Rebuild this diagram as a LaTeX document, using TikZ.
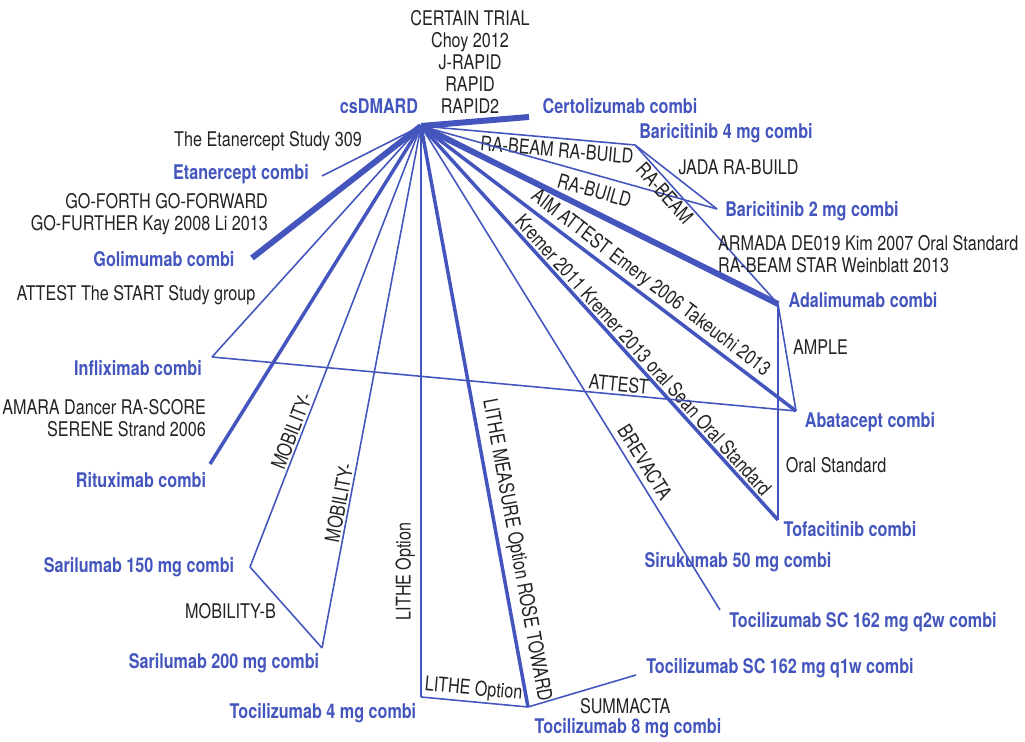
\documentclass[tikz,border=0pt]{standalone}
\usepackage{fontspec}
\setmainfont[FakeStretch=0.8]{TeX Gyre Heros}
\definecolor{netblue}{RGB}{68,86,190}
\definecolor{trialgray}{RGB}{35,35,35}

\begin{document}
\begin{tikzpicture}[x=0.02cm, y=-0.02cm,
		vtx/.style={coordinate},
		drug/.style={text=netblue, font=\fontsize{11.5}{12.6}\selectfont\bfseries, inner sep=1pt},
		trial/.style={text=trialgray, font=\fontsize{11.5}{12.6}\selectfont, inner sep=1pt},
		thinedge/.style={draw=netblue, line width=0.9pt},
		midedge/.style={draw=netblue, line width=2pt},
		thickedge/.style={draw=netblue, line width=3.4pt}]
				\useasboundingbox (0, 0) rectangle (1025, 742);
				\node[vtx] (csdmard)at(421, 126) {};
				\node[vtx] (certo)at(529, 117) {};
				\node[vtx] (bari4)at(635, 145) {};
				\node[vtx] (bari2)at(717, 209) {};
				\node[vtx] (adali)at(778, 304) {};
				\node[vtx] (abata)at(796, 411) {};
				\node[vtx] (tofa)at(778, 520) {};
				\node[vtx] (tocqtw)at(720, 610) {};
				\node[vtx] (tocqow)at(636, 675) {};
				\node[vtx] (toceight)at(528, 707) {};
				\node[vtx] (tocfour)at(421, 697) {};
				\node[vtx] (sari200)at(322, 648) {};
				\node[vtx] (sari150)at(250, 567) {};
				\node[vtx] (ritux)at(210, 464) {};
				\node[vtx] (infli)at(212, 357) {};
				\node[vtx] (golim)at(252, 258) {};
				\node[vtx] (etan)at(322, 176) {};
				\draw[thickedge] (csdmard) -- (certo);
				\draw[thinedge] (csdmard) -- (bari4) node[trial, sloped, below=1pt, pos=0.64] {RA-BEAM RA-BUILD};
				\draw[thinedge] (csdmard) -- (bari2) node[trial, sloped, below=3pt, pos=0.6] {RA-BUILD};
				\draw[thinedge] (bari4) -- (bari2) node[trial, midway, anchor=south west] {JADA RA-BUILD};
				\draw[thinedge] (bari4) -- (adali) node[trial, sloped, below, pos=0.26] {RA-BEAM};
				\draw[thickedge] (csdmard) -- (adali);
				\draw[thinedge] (adali) -- (abata) node[trial, pos=0.4, anchor=west, xshift=3pt] {AMPLE};
				\draw[thinedge] (adali) -- (tofa) node[trial, pos=0.745, anchor=west, xshift=3pt] {Oral Standard};
				\draw[midedge] (csdmard) -- (abata) node[trial, sloped, above, pos=0.59] {AIM ATTEST Emery 2006 Takeuchi 2013};
				\draw[midedge] (csdmard) -- (tofa) node[trial, sloped, above, pos=0.6] {Kremer 2011 Kremer 2013 oral Sean Oral Standard};
				\draw[thinedge] (infli) -- (abata) node[trial, sloped, above, pos=0.695] {ATTEST};
				\draw[thinedge] (csdmard) -- (infli);
				\draw[thinedge] (csdmard) -- (etan);
				\draw[thickedge] (csdmard) -- (golim);
				\draw[midedge] (csdmard) -- (ritux);
				\draw[thinedge] (sari150) -- (csdmard) node[trial, sloped, above, pos=0.3] {MOBILITY-};
				\draw[thinedge] (sari200) -- (csdmard) node[trial, sloped, above, pos=0.275] {MOBILITY-};
				\draw[thinedge] (sari150) -- (sari200) node[trial, pos=0.54, left=6pt] {MOBILITY-B};
				\draw[thinedge] (tocfour) -- (csdmard) node[trial, sloped, above=2pt, pos=0.22] {LITHE Option};
				\draw[midedge] (csdmard) -- (toceight) node[trial, sloped, above=2pt, pos=0.736] {LITHE MEASURE Option ROSE TOWARD};
				\draw[thinedge] (tocfour) -- (toceight) node[trial, sloped, above, pos=0.48] {LITHE Option};
				\draw[thinedge] (toceight) -- (tocqow) node[trial, pos=0.9, below=10pt] {SUMMACTA};
				\draw[thinedge] (csdmard) -- (tocqtw) node[trial, sloped, above=2pt, pos=0.71] {BREVACTA};
				\node[drug] (csdmardlbl)at(379, 106) {csDMARD};
				\node[drug] (certolbl)at(620, 106) {Certolizumab combi};
				\node[drug] (bari4lbl)at(726, 133) {Baricitinib 4 mg combi};
				\node[drug] (bari2lbl)at(812, 211) {Baricitinib 2 mg combi};
				\node[drug] (adalilbl)at(863, 300) {Adalimumab combi};
				\node[drug] (abatalbl)at(870, 422) {Abatacept combi};
				\node[drug] (tofalbl)at(850, 529) {Tofacitinib combi};
				\node[drug] (sirulbl)at(738, 562) {Sirukumab 50 mg combi};
				\node[drug] (tocqtwlbl)at(863, 622) {Tocilizumab SC 162 mg q2w combi};
				\node[drug] (tocqowlbl)at(780, 668) {Tocilizumab SC 162 mg q1w combi};
				\node[drug] (toceightlbl)at(628, 728) {Tocilizumab 8 mg combi};
				\node[drug] (tocfourlbl)at(323, 713) {Tocilizumab 4 mg combi};
				\node[drug] (sari200lbl)at(224, 663) {Sarilumab 200 mg combi};
				\node[drug] (sari150lbl)at(139, 567) {Sarilumab 150 mg combi};
				\node[drug] (rituxlbl)at(141, 480) {Rituximab combi};
				\node[drug] (inflilbl)at(138, 368) {Infliximab combi};
				\node[drug] (golimlbl)at(164, 259) {Golimumab combi};
				\node[drug] (etanlbl)at(241, 174) {Etanercept combi};
				\node[trial, align=center] (certotrials)at(470, 62) {CERTAIN TRIAL\\Choy 2012\\J-RAPID\\RAPID\\RAPID2};
				\node[trial] (etantrials)at(268, 141) {The Etanercept Study 309};
				\node[trial, align=right, anchor=east] (golimtrials)at(270, 214) {GO-FORTH GO-FORWARD\\GO-FURTHER Kay 2008 Li 2013};
				\node[trial] (inflitrials)at(136, 295) {ATTEST The START Study group};
				\node[trial, align=right, anchor=east] (rituxtrials)at(208, 418) {AMARA Dancer RA-SCORE\\SERENE Strand 2006};
				\node[trial, align=left, anchor=west] (adalitrials)at(716, 254) {ARMADA DE019 Kim 2007 Oral Standard\\RA-BEAM STAR Weinblatt 2013};
			\end{tikzpicture}
\end{document}
